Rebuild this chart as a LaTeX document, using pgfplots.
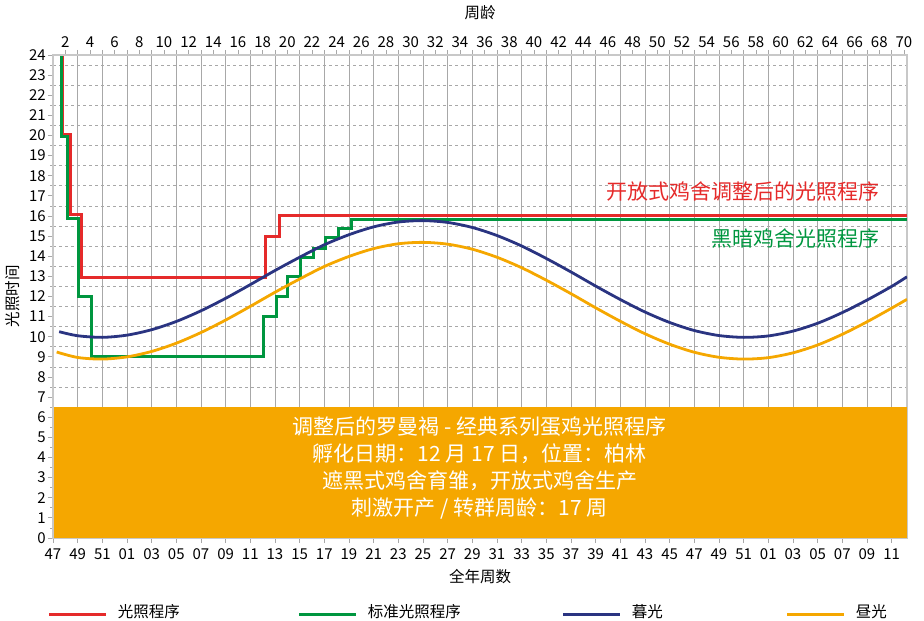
\documentclass[border=0pt]{standalone}
\usepackage{pgfplots}
\pgfplotsset{compat=1.18}
\usepackage{fontspec}
\setmainfont{Noto Sans CJK SC}
\definecolor{cRed}{HTML}{E52A2A}
\definecolor{cGreen}{HTML}{00963F}
\definecolor{cBlue}{HTML}{2A3481}
\definecolor{cOrange}{HTML}{F5A700}
\definecolor{cGrid}{HTML}{A8A8A8}
\definecolor{cAxis}{HTML}{C8C8C8}
\pgfplotsset{
  every tick label/.append style={font=\fontsize{15}{15}\selectfont},
  /pgf/number format/assume math mode=true,
}
\begin{document}
\begin{tikzpicture}
\begin{axis}[
  at={(0pt,0pt)}, anchor=south west,
  scale only axis, width=854pt, height=483pt,
  xmin=1, xmax=70.25, ymin=0, ymax=24,
  axis line style={cAxis, line width=1.5pt},
  tick pos=left,
  tick align=outside,
  tick style={cGrid, line width=0.8pt},
  major tick length=5pt, minor tick length=3pt,
  xtick={1,3,...,69},
  xticklabels={47,49,51,01,03,05,07,09,11,13,15,17,19,21,23,25,27,29,31,33,35,37,39,41,43,45,47,49,51,01,03,05,07,09,11},
  ytick={0,1,...,24},
  minor ytick={0.5,1.5,...,23.5},
  xmajorgrids=true, ymajorgrids=false, yminorgrids=true,
  major grid style={cGrid, line width=0.8pt},
  minor grid style={cGrid, line width=0.8pt, dash pattern=on 3pt off 3pt},
  xticklabel style={anchor=center, inner sep=0pt, yshift=-11pt},
  yticklabel style={anchor=east, inner sep=0pt, xshift=-2pt},
  xlabel={全年周数},
  xlabel style={at={(axis description cs:0.5,-0.0807)}, anchor=center, font=\fontsize{15.5}{18}\selectfont},
  ylabel={光照时间},
  ylabel style={at={(axis description cs:-0.0473,0.5)}, anchor=center, font=\fontsize{15.5}{18}\selectfont},
  legend columns=4,
  legend image code/.code={\draw[#1, line width=3pt] (0pt,-3pt) -- (57pt,-3pt);},
  legend style={at={(axis description cs:-0.006,-0.153)}, anchor=west, draw=none, fill=none,
    inner sep=0pt, outer sep=0pt, nodes={inner sep=0pt},
    font=\fontsize{15.5}{18}\selectfont,
    /tikz/every odd column/.append style={column sep=10pt},
    /tikz/every even column/.append style={column sep=0pt}},
]
\addplot[fill=cOrange, draw=none, forget plot] coordinates {(1.05,0) (70.25,0) (70.25,6.5) (1.05,6.5)} -- cycle;

\addplot[cRed, line width=3pt, line join=miter] coordinates {
(1.8,24) (1.8,20.05) (2.4,20.05) (2.4,16.05) (3.3,16.05) (3.3,12.95) (18.25,12.95) (18.25,15.0) (19.4,15.0) (19.4,16.0) (70.25,16.0)};
\addlegendentry{\makebox[180pt][l]{光照程序}}

\addplot[cGreen, line width=3pt, line join=miter] coordinates {
(1.67,24) (1.67,19.95) (2.2,19.95) (2.2,15.9) (3.1,15.9) (3.1,12.0) (4.15,12.0) (4.15,9.0) (18.1,9.0) (18.1,11.0) (19.1,11.0) (19.1,12.0) (20.05,12.0) (20.05,13.0) (21.05,13.0) (21.05,13.95) (22.1,13.95) (22.1,14.37) (23.1,14.37) (23.1,14.93) (24.15,14.93) (24.15,15.4) (25.2,15.4) (25.2,15.82) (70.25,15.82)};
\addlegendentry{\makebox[194pt][l]{标准光照程序}}

\addplot[cBlue, line width=2.8pt, smooth] coordinates {
(1.5,10.25)(3,10.05)(5,9.97)(7,10.08)(9,10.35)(11,10.76)(13,11.29)(15,11.91)(17,12.59)(19,13.29)(21,13.95)(23,14.57)(25,15.07)(27,15.46)(29,15.70)(31,15.77)(33,15.68)(35,15.43)(37,15.03)(39,14.51)(41,13.89)(43,13.22)(45,12.52)(47,11.85)(49,11.23)(51,10.71)(53,10.31)(55,10.06)(57,9.97)(59,10.04)(61,10.28)(63,10.67)(65,11.2)(67,11.82)(69,12.5)(70.25,12.98)};
\addlegendentry{\makebox[154pt][l]{暮光}}

\addplot[cOrange, line width=2.8pt, smooth] coordinates {
(1.3,9.24)(3,8.97)(5,8.89)(7,9.00)(9,9.27)(11,9.68)(13,10.21)(15,10.83)(17,11.51)(19,12.21)(21,12.87)(23,13.49)(25,13.99)(27,14.38)(29,14.62)(31,14.69)(33,14.60)(35,14.35)(37,13.95)(39,13.43)(41,12.81)(43,12.14)(45,11.44)(47,10.77)(49,10.15)(51,9.63)(53,9.23)(55,8.98)(57,8.89)(59,8.96)(61,9.20)(63,9.59)(65,10.12)(67,10.74)(69,11.42)(70.25,11.86)};
\addlegendentry{昼光}

\node[anchor=east, text=cRed, font=\fontsize{21}{24}\selectfont] at (axis cs:68.3,17.2) {开放式鸡舍调整后的光照程序};
\node[anchor=east, text=cGreen, font=\fontsize{21}{24}\selectfont] at (axis cs:68.3,14.9) {黑暗鸡舍光照程序};
\node[text=white, align=center, font=\fontsize{21}{27}\selectfont] at (axis cs:35.6,3.48)
  {调整后的罗曼褐 - 经典系列蛋鸡光照程序\\孵化日期：12 月 17 日，位置：柏林\\遮黑式鸡舍育雏，开放式鸡舍生产\\刺激开产 / 转群周龄：17 周};
\end{axis}
\begin{axis}[
  at={(0pt,0pt)}, anchor=south west,
  scale only axis, width=854pt, height=483pt,
  xmin=1, xmax=70.25, ymin=0, ymax=24,
  hide y axis, axis x line*=top,
  axis line style={cAxis, line width=1.5pt},
  tick align=outside,
  tick style={cGrid, line width=0.8pt},
  major tick length=5pt, minor tick length=5pt,
  xtick={2,4,...,70}, minor xtick={3,5,...,69},
  xticklabel style={anchor=center, inner sep=0pt, yshift=8pt},
  xlabel={周龄},
  xlabel style={at={(axis description cs:0.5,1.087)}, anchor=center, font=\fontsize{15.5}{18}\selectfont},
]
\end{axis}
\pgfresetboundingbox
\path[use as bounding box] (-53pt,-83pt) rectangle (871pt,538pt);
\end{tikzpicture}
\end{document}
